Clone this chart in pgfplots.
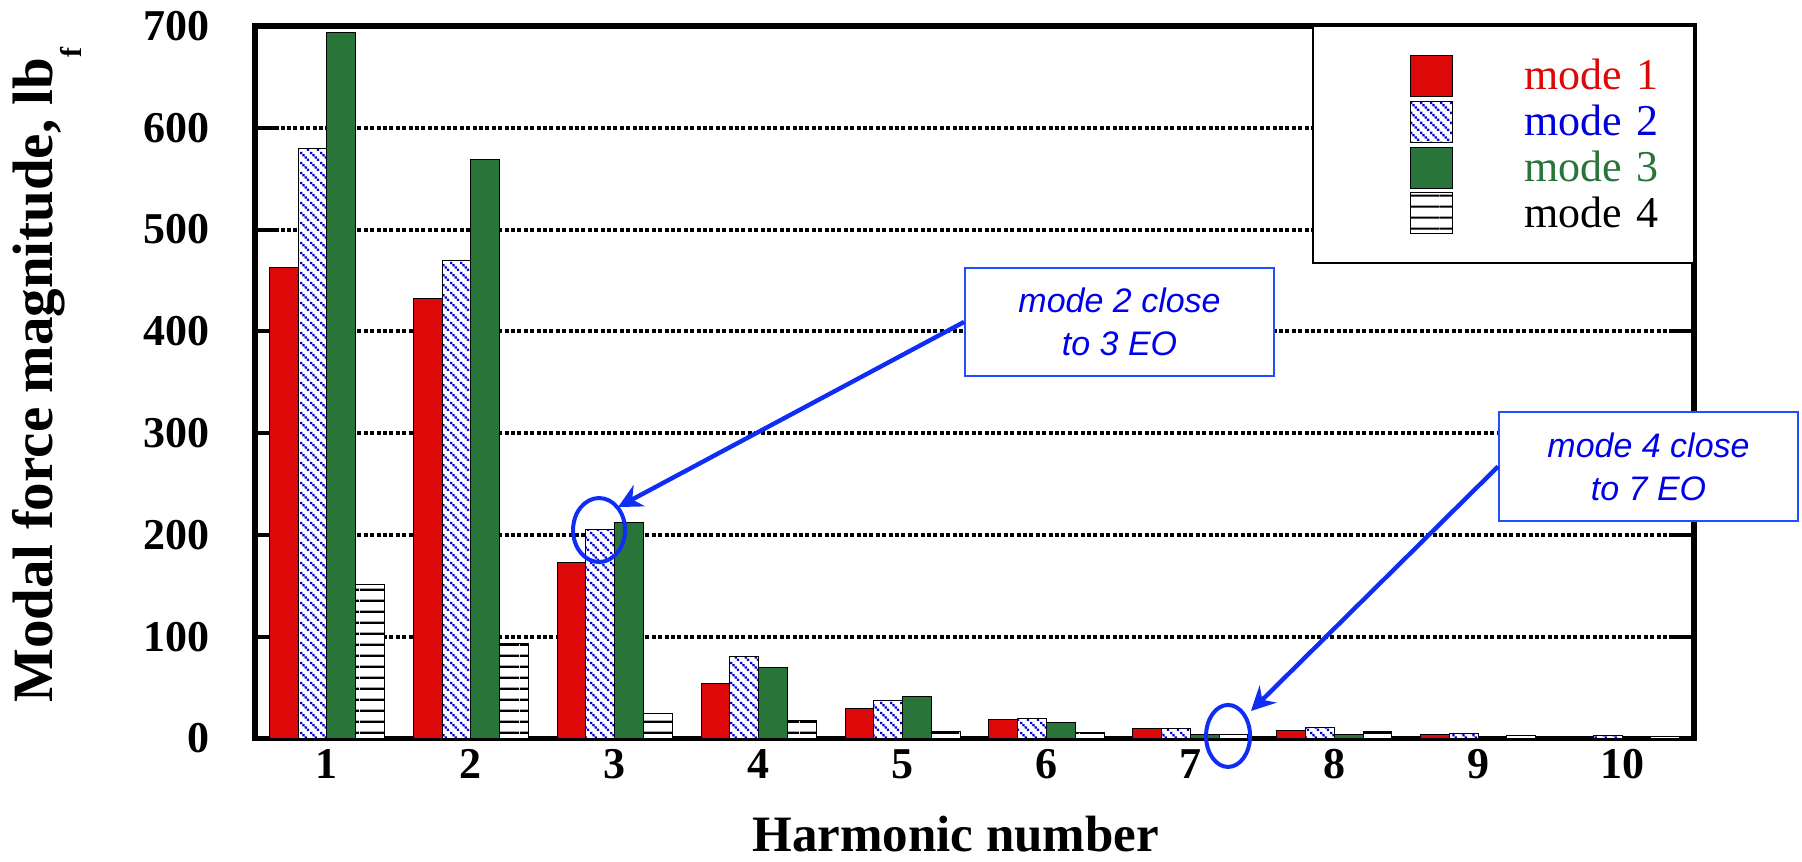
\documentclass[border=0pt]{standalone}
\usepackage{fontspec}
\setmainfont{Liberation Serif}
\setsansfont{Liberation Sans}
\usepackage{pgfplots}
\usepackage{pgfplotstable}
\pgfplotsset{compat=1.18}
\usetikzlibrary{patterns,arrows.meta}

\definecolor{modered}{RGB}{221,8,8}
\definecolor{modegreen}{RGB}{41,117,57}
\definecolor{modeblue}{RGB}{0,0,220}
\definecolor{notetext}{RGB}{0,0,235}
\definecolor{noteframe}{RGB}{30,80,255}
\definecolor{notearrow}{RGB}{15,45,245}

% blue dotted diagonal hatching for mode 2
\pgfdeclarepatternformonly{diagdots}{\pgfqpoint{0pt}{0pt}}{\pgfqpoint{5pt}{5pt}}{\pgfqpoint{5pt}{5pt}}{%
  \pgfpathrectangle{\pgfqpoint{0pt}{5pt}}{\pgfqpoint{1.25pt}{-1.25pt}}%
  \pgfpathrectangle{\pgfqpoint{1.25pt}{3.75pt}}{\pgfqpoint{1.25pt}{-1.25pt}}%
  \pgfpathrectangle{\pgfqpoint{2.5pt}{2.5pt}}{\pgfqpoint{1.25pt}{-1.25pt}}%
  \pgfpathrectangle{\pgfqpoint{3.75pt}{1.25pt}}{\pgfqpoint{1.25pt}{-1.25pt}}%
  \pgfusepath{fill}}
% horizontal rules for mode 4
\pgfdeclarepatternformonly{hrules}{\pgfqpoint{0pt}{0pt}}{\pgfqpoint{20pt}{5.6pt}}{\pgfqpoint{20pt}{5.6pt}}{%
  \pgfpathrectangle{\pgfqpoint{0pt}{2.25pt}}{\pgfqpoint{20pt}{1.1pt}}%
  \pgfusepath{fill}}

\pgfplotsset{
  layers/gridbelow/.define layer set={axis background,axis grid,pre main,main,axis ticks,axis lines,axis tick labels,axis descriptions,axis foreground}{},
  swatch/.style={legend image code/.code={%
      \pgfpathrectangle{\pgfqpoint{-49pt}{-11.43pt}}{\pgfqpoint{70pt}{22.86pt}}%
      \pgfusepath{discard}%
      \draw[##1] (0pt,-10.25pt) rectangle (21pt,10.25pt);}},
  modeone/.style={fill=modered, draw=black, line width=0.5pt, swatch},
  modetwo/.style={fill=white, draw=black, line width=0.5pt,
    postaction={pattern=diagdots, pattern color=modeblue}, swatch},
  modethree/.style={fill=modegreen, draw=black, line width=0.5pt, swatch},
  modefour/.style={fill=white, draw=black, line width=0.5pt,
    postaction={pattern=hrules, pattern color=black}, swatch},
}

\pgfplotstableread{
h  m1   m2   m3   m4
1  463  580  694  151
2  432  470  569  93
3  173  205  212  25
4  54   81   70   18
5  29   37   41   6.5
6  19   20   16   6
7  10   10   3.5  4
8  8    11   4    7
9  4    5    0.6  3
10 0.8  2.5  0.4  2
}\modaldata

\begin{document}
\begin{tikzpicture}
\begin{axis}[
  set layers=gridbelow,
  at={(127.5pt,61.25pt)}, anchor=south west,
  scale only axis, width=719.5pt, height=356.25pt,
  xmin=0.5, xmax=10.5, ymin=0, ymax=700,
  xtick={1,2,...,10}, ytick={0,100,...,700},
  ybar=0pt, bar width=0.2,
  axis line style={line width=2.6pt, black},
  xtick style={draw=none},
  ytick style={line width=2pt, black},
  major tick length=12pt,
  ymajorgrids,
  grid style={black, line width=2pt, dash pattern=on 2pt off 1.2pt},
  /pgf/number format/assume math mode=true,
  ticklabel style={font=\bfseries\fontsize{22}{24}\selectfont},
  xticklabel style={yshift=10pt},
  yticklabel style={xshift=-19pt},
  xlabel={Harmonic number},
  xlabel style={at={(axis description cs:0.487,-0.158)}, anchor=base,
    font=\bfseries\fontsize{25.5}{28}\selectfont},
  ylabel={Modal force magnitude, lb\raisebox{-14.5pt}{\fontsize{15}{15}\selectfont f}},
  ylabel style={at={(axis description cs:-0.1404,0.510)}, anchor=base,
    font=\bfseries\fontsize{28.5}{30}\selectfont},
  legend style={at={(1,1)}, anchor=north east, draw=black, line width=0.75pt,
    fill=white, inner xsep=0pt, inner ysep=13.3pt, row sep=0pt,
    font=\fontsize{22}{22}\selectfont,
    /tikz/every odd column/.append style={column sep=35.5pt},
    nodes={inner sep=0pt, text width=84.5pt}},
  legend cell align=left,
]
\addplot[modeone]   table[x=h, y=m1] {\modaldata};
\addplot[modetwo]   table[x=h, y=m2] {\modaldata};
\addplot[modethree] table[x=h, y=m3] {\modaldata};
\addplot[modefour]  table[x=h, y=m4] {\modaldata};
\addlegendentry{\textcolor{modered}{mode 1}}
\addlegendentry{\textcolor{modeblue}{mode 2}}
\addlegendentry{\textcolor{modegreen}{mode 3}}
\addlegendentry{\textcolor{black}{mode 4}}

\coordinate (c1) at (axis cs:6.508,409.2);
\coordinate (t1) at (axis cs:3.023,227.4);
\coordinate (e1) at (axis cs:2.891,204.8);
\coordinate (c2) at (axis cs:10.184,267.2);
\coordinate (t2) at (axis cs:7.421,27.0);
\coordinate (e2) at (axis cs:7.262,2.5);
\end{axis}

% callouts
\draw[notearrow, line width=2pt] (e1) ellipse [x radius=13pt, y radius=16pt];
\draw[notearrow, line width=2pt] (e2) ellipse [x radius=11pt, y radius=15.5pt];
\node[draw=noteframe, line width=1pt, fill=white, text=notetext,
  font=\sffamily\itshape\fontsize{17}{21.5}\selectfont, align=center,
  minimum width=154.5pt, minimum height=54pt, inner sep=0pt] (box1) at (c1)
  {mode 2 close\\to 3 EO};
\node[draw=noteframe, line width=1pt, fill=white, text=notetext,
  font=\sffamily\itshape\fontsize{17}{21.5}\selectfont, align=center,
  minimum width=149.5pt, minimum height=54.5pt, inner sep=0pt] (box2) at (c2)
  {mode 4 close\\to 7 EO};
\draw[notearrow, line width=2.2pt, -{Stealth[length=12pt,width=12pt,inset=4pt]}]
  (box1.west) -- (t1);
\draw[notearrow, line width=2.2pt, -{Stealth[length=12pt,width=12pt,inset=4pt]}]
  (box2.west) -- (t2);
% page extent
\path (0,0) rectangle (901pt,430.5pt);
\end{tikzpicture}
\end{document}
